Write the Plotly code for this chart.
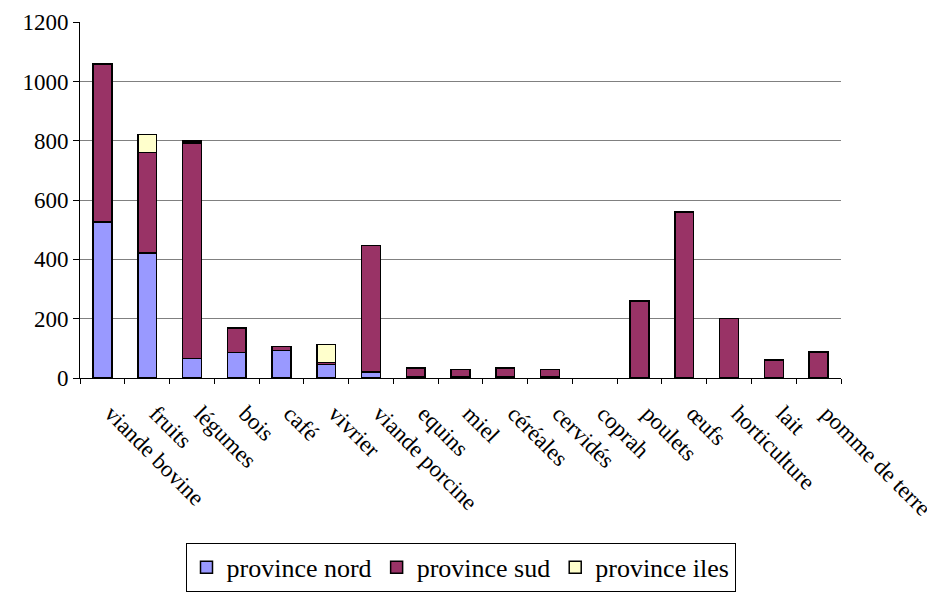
import plotly.graph_objects as go

categories = ["viande bovine", "fruits", "légumes", "bois", "café", "vivrier",
              "viande porcine", "equins", "miel", "céréales", "cervidés", "coprah",
              "poulets", "œufs", "horticulture", "lait", "pomme de terre"]
nord = [527, 422, 66, 86, 93, 46, 20, 3, 3, 3, 3, 0, 0, 0, 0, 0, 0]
sud = [533, 338, 727, 82, 14, 6, 427, 31, 25, 31, 25, 0, 260, 560, 201, 60, 87]
iles = [0, 61, 7, 0, 0, 61, 0, 0, 0, 0, 0, 0, 0, 0, 0, 0, 0]

series = [("province nord", nord, "#9999FF"),
          ("province sud", sud, "#993366"),
          ("province iles", iles, "#FFFFCC")]

FAM = "Liberation Serif"
fig = go.Figure()
for name, vals, col in series:
    fig.add_trace(go.Bar(x=categories, y=[v if v else None for v in vals], name=name,
                         marker=dict(color=col, line=dict(color="black", width=1.5))))

fig.update_layout(
    width=935, height=597,
    barmode="stack", bargap=0.58,
    plot_bgcolor="white", paper_bgcolor="white",
    margin=dict(l=72, r=102, t=14, b=227, autoexpand=False),
    font=dict(family=FAM, size=23, color="black"),
    showlegend=True,
    legend=dict(orientation="h", x=0.5, xanchor="center", y=-0.463, yanchor="top",
                bordercolor="black", borderwidth=1,
                font=dict(family=FAM, size=26, color="black"),
                traceorder="normal", itemwidth=30),
    xaxis=dict(type="category", tickson="boundaries", ticks="outside", ticklen=5,
               tickcolor="black", showline=True, linecolor="black", linewidth=1,
               tickangle=45, showgrid=False, automargin=False,
               ticklabelstandoff=12, ticklabelshift=9,
               tickfont=dict(family=FAM, size=23, color="black")),
    yaxis=dict(range=[0, 1201], tickvals=[0, 200, 400, 600, 800, 1000, 1200],
               ticks="outside", ticklen=6, ticklabeloverflow="allow",
               tickcolor="black", showline=True, linecolor="black", linewidth=1,
               showgrid=True, gridcolor="#808080", gridwidth=1, zeroline=False,
               automargin=False,
               tickfont=dict(family=FAM, size=23, color="black")),
)
fig.write_html("out.html")
